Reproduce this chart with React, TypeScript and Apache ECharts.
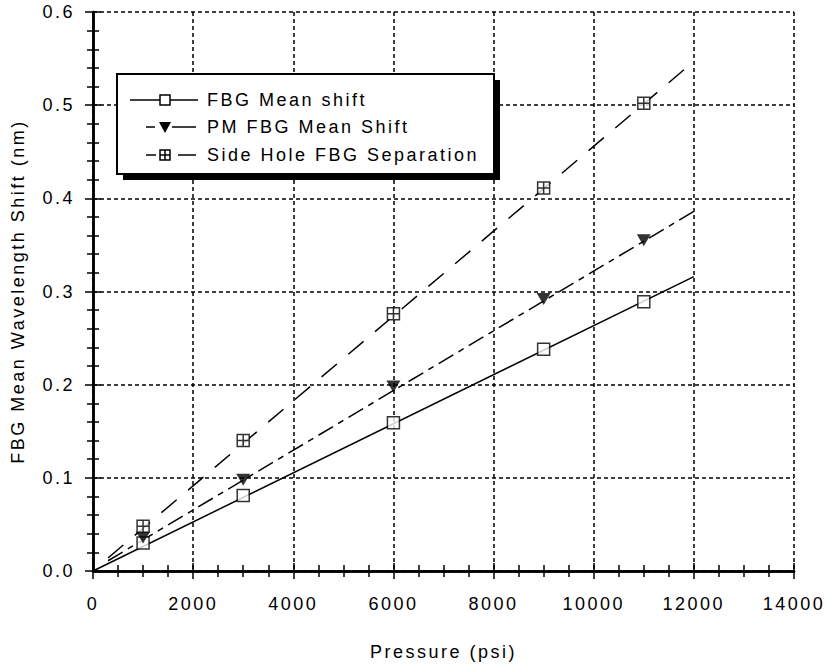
import React, { useEffect, useRef } from "react";
import * as echarts from "echarts";

// ---- data ----
const pressure = [1000, 3000, 6000, 9000, 11000];
const fbgMean = [0.030, 0.081, 0.159, 0.238, 0.289];
const pmFbgMean = [0.036, 0.098, 0.198, 0.292, 0.355];
const sideHoleSep = [0.048, 0.140, 0.276, 0.411, 0.502];

// fitted lines
const fbgFitX = [0, 12000];
const fbgFitY = [0, 0.316];
const pmFitX = [300, 12000];
const pmFitY = [0.011, 0.386];
const sideFitX = [300, 12000];
const sideFitY = [0.014, 0.547];

const seriesNames = ["FBG Mean shift", "PM FBG Mean Shift", "Side Hole FBG Separation"];
const xTitle = "Pressure (psi)";
const yTitle = "FBG Mean Wavelength Shift (nm)";

const FONT = "'Liberation Sans', Arial, Helvetica, sans-serif";
const crossSquare = "path://M0 0H10V10H0Z M5 0V10 M0 5H10";

const pairs = (xs: number[], ys: number[]) => xs.map((x, i) => [x, ys[i]]);

export default function App() {
  const ref = useRef<HTMLDivElement>(null);
  useEffect(() => {
    document.body.style.margin = "0";
    if (!ref.current) return;
    const chart = echarts.init(ref.current, null, { renderer: "svg" });

    const axisLine = { show: true, lineStyle: { color: "#000", width: 2.5 } };
    const axisTick = { show: true, inside: true, length: 8, lineStyle: { color: "#000", width: 1.5 } };
    const gridLine = { show: true, lineStyle: { color: "#000", width: 1.5, type: [4, 3] } };
    const label = { color: "#000", fontSize: 18, fontFamily: FONT };

    const lx1 = 130, lx2 = 198, mx = 165;
    const rows = [100, 127, 155];
    const Z = 100;
    const st = { stroke: "#000", lineWidth: 1.5 };
    const legendChildren: any[] = [
      { type: "rect", z: Z, shape: { x: 123, y: 80, width: 377, height: 100 }, style: { fill: "#000" } },
      { type: "rect", z: Z + 1, shape: { x: 117, y: 74, width: 377, height: 100 }, style: { fill: "#fff", stroke: "#000", lineWidth: 2 } },
      // row 1 solid + square
      { type: "line", z: Z + 2, shape: { x1: lx1, y1: rows[0], x2: lx2, y2: rows[0] }, style: st },
      { type: "rect", z: Z + 3, shape: { x: mx - 5, y: rows[0] - 5, width: 10, height: 10 }, style: { fill: "#fff", stroke: "#000", lineWidth: 1.5 } },
      // row 2 dash-dot + triangle
      { type: "line", z: Z + 2, shape: { x1: 146, y1: rows[1], x2: 155, y2: rows[1] }, style: st },
      { type: "line", z: Z + 2, shape: { x1: 172, y1: rows[1], x2: 196, y2: rows[1] }, style: st },
      { type: "polygon", z: Z + 3, shape: { points: [[mx - 6, rows[1] - 5], [mx + 6, rows[1] - 5], [mx, rows[1] + 6]] }, style: { fill: "#000" } },
      // row 3 dashed + crossed square
      { type: "line", z: Z + 2, shape: { x1: 146, y1: rows[2], x2: 156, y2: rows[2] }, style: st },
      { type: "line", z: Z + 2, shape: { x1: 178, y1: rows[2], x2: 196, y2: rows[2] }, style: st },
      { type: "rect", z: Z + 3, shape: { x: mx - 5, y: rows[2] - 5, width: 10, height: 10 }, style: { fill: "#fff", stroke: "#000", lineWidth: 1.5 } },
      { type: "line", z: Z + 4, shape: { x1: mx, y1: rows[2] - 5, x2: mx, y2: rows[2] + 5 }, style: st },
      { type: "line", z: Z + 4, shape: { x1: mx - 5, y1: rows[2], x2: mx + 5, y2: rows[2] }, style: st },
    ];
    seriesNames.forEach((n, i) => {
      legendChildren.push({
        type: "text",
        z: Z + 5,
        x: 207,
        y: rows[i],
        style: { text: n, fill: "#000", font: `18px ${FONT}`, verticalAlign: "middle" },
      });
    });

    chart.setOption({
      animation: false,
      backgroundColor: "#fff",
      textStyle: { fontFamily: FONT },
      grid: { left: 93, right: 37, top: 12, bottom: 100, containLabel: false },
      xAxis: [
        {
          type: "value", min: 0, max: 14000, interval: 2000, position: "bottom",
          axisLine, axisTick,
          minorTick: { show: true, splitNumber: 4, length: 6, lineStyle: { color: "#000", width: 1.5 } },
          splitLine: gridLine,
          axisLabel: { ...label, margin: 24, formatter: (v: number) => String(v) },
          name: xTitle, nameLocation: "middle", nameGap: 72,
          nameTextStyle: { color: "#000", fontSize: 18, fontFamily: FONT },
        },
        {
          type: "value", min: 0, max: 14000, interval: 2000, position: "top",
          axisLine, axisTick,
          minorTick: { show: true, splitNumber: 4, length: 6, lineStyle: { color: "#000", width: 1.5 } },
          splitLine: { show: false }, axisLabel: { show: false },
        },
      ],
      yAxis: [
        {
          type: "value", min: 0, max: 0.6, interval: 0.1, position: "left",
          axisLine, axisTick,
          minorTick: { show: true, splitNumber: 5, length: 6, lineStyle: { color: "#000", width: 1.5 } },
          splitLine: gridLine,
          axisLabel: { ...label, margin: 18, formatter: (v: number) => v.toFixed(1) },
          name: yTitle, nameLocation: "middle", nameGap: 66,
          nameTextStyle: { color: "#000", fontSize: 18, fontFamily: FONT },
        },
        {
          type: "value", min: 0, max: 0.6, interval: 0.1, position: "right",
          axisLine, axisTick,
          minorTick: { show: true, splitNumber: 5, length: 6, lineStyle: { color: "#000", width: 1.5 } },
          splitLine: { show: false }, axisLabel: { show: false },
        },
      ],
      series: [
        { name: seriesNames[0] + " fit", type: "line", data: pairs(fbgFitX, fbgFitY), showSymbol: false, silent: true,
          lineStyle: { color: "#000", width: 1.5, type: "solid" } },
        { name: seriesNames[1] + " fit", type: "line", data: pairs(pmFitX, pmFitY), showSymbol: false, silent: true,
          lineStyle: { color: "#000", width: 1.5, type: [17, 6, 6, 6] } },
        { name: seriesNames[2] + " fit", type: "line", data: pairs(sideFitX, sideFitY), showSymbol: false, silent: true,
          lineStyle: { color: "#000", width: 1.5, type: [20, 15] } },
        { name: seriesNames[0], type: "scatter", data: pairs(pressure, fbgMean), symbol: "rect", symbolSize: 12,
          itemStyle: { color: "#fff", borderColor: "#000", borderWidth: 1.5 }, z: 5 },
        { name: seriesNames[1], type: "scatter", data: pairs(pressure, pmFbgMean), symbol: "triangle", symbolRotate: 180, symbolSize: [14, 12],
          itemStyle: { color: "#000" }, z: 5 },
        { name: seriesNames[2], type: "scatter", data: pairs(pressure, sideHoleSep), symbol: crossSquare, symbolKeepAspect: true, symbolSize: 12,
          itemStyle: { color: "#fff", borderColor: "#000", borderWidth: 1.5 }, z: 5 },
      ],
      graphic: [{ type: "group", z: Z, children: legendChildren }],
    });
    return () => chart.dispose();
  }, []);
  return (
    <>
      <style>{`#chart-root text { letter-spacing: 2.5px; }`}</style>
      <div id="chart-root" ref={ref} style={{ width: 831, height: 671 }} />
    </>
  );
}
